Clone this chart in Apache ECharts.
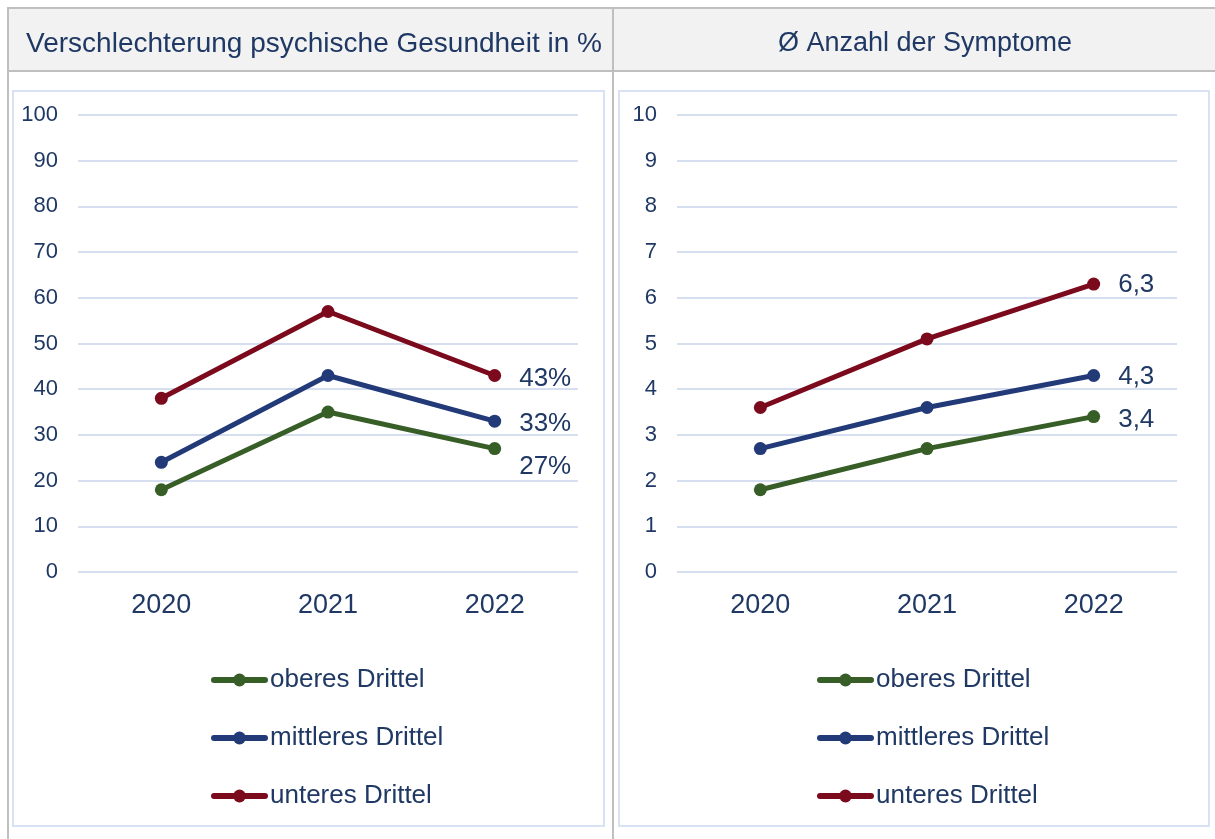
<!DOCTYPE html>
<html>
<head>
<meta charset="utf-8">
<script src="https://cdn.jsdelivr.net/npm/echarts@6/dist/echarts.min.js"></script>
<style>
html,body{margin:0;padding:0;background:#fff;}
#c{width:1215px;height:839px;}
</style>
</head>
<body>
<div id="c"></div>
<script>
const categories = ['2020', '2021', '2022'];
const seriesNames = ['oberes Drittel', 'mittleres Drittel', 'unteres Drittel'];
const leftTitle = 'Verschlechterung psychische Gesundheit in %';
const rightTitle = 'Ø Anzahl der Symptome';

// Verschlechterung psychische Gesundheit in %
const pctOberes = [18, 35, 27];
const pctMittleres = [24, 43, 33];
const pctUnteres = [38, 57, 43];

// Ø Anzahl der Symptome
const symOberes = [1.8, 2.7, 3.4];
const symMittleres = [2.7, 3.6, 4.3];
const symUnteres = [3.6, 5.1, 6.3];

const colors = ['#385e27', '#223a78', '#7b0a1c'];
const textColor = '#1f3864';
const gridColor = '#d6dff0';
const FONT = 'Liberation Sans, Arial, sans-serif';

const chart = echarts.init(document.getElementById('c'));

function makeSeries(name, values, idx, axisIdx, fmt, labelOffsetY) {
  return {
    name: name,
    type: 'line',
    xAxisIndex: axisIdx,
    yAxisIndex: axisIdx,
    symbol: 'circle',
    symbolSize: 13,
    color: colors[idx],
    lineStyle: { width: 5, color: colors[idx] },
    itemStyle: { color: colors[idx] },
    z: 3 + (2 - idx),
    animation: false,
    data: values.map((v, i) => i === values.length - 1 ? {
      value: v,
      label: {
        show: true,
        position: 'right',
        distance: 18,
        offset: [0, labelOffsetY],
        color: textColor,
        fontSize: 26,
        fontFamily: FONT,
        formatter: fmt
      }
    } : v)
  };
}

const xAxisBase = {
  type: 'category',
  data: categories,
  boundaryGap: true,
  axisLine: { show: false },
  axisTick: { show: false },
  axisLabel: { color: textColor, fontSize: 27, fontFamily: FONT, margin: 20 }
};

function yAxisBase(max, interval) {
  return {
    type: 'value',
    min: 0,
    max: max,
    interval: interval,
    axisLine: { show: false },
    axisTick: { show: false },
    axisLabel: { color: textColor, fontSize: 22, fontFamily: FONT, margin: 20 },
    splitLine: { lineStyle: { color: gridColor, width: 2 } }
  };
}

const legendBase = {
  orient: 'vertical',
  top: 667,
  padding: 0,
  itemWidth: 51,
  itemHeight: 16,
  itemGap: 32,
  data: seriesNames,
  selectedMode: false,
  lineStyle: { width: 6, cap: 'round' },
  itemStyle: { borderWidth: 0 },
  textStyle: { color: textColor, fontSize: 26, fontFamily: FONT, padding: [0, 0, 0, 0] }
};

const option = {
  backgroundColor: '#ffffff',
  animation: false,
  textStyle: { fontFamily: FONT },
  graphic: [
    { type: 'rect', shape: { x: 7, y: 7, width: 1215, height: 64 }, style: { fill: '#f2f2f2' }, z: -10 },
    { type: 'line', shape: { x1: 7, y1: 8, x2: 1215, y2: 8 }, style: { stroke: '#bfbfbf', lineWidth: 2 }, z: -5 },
    { type: 'line', shape: { x1: 7, y1: 71, x2: 1215, y2: 71 }, style: { stroke: '#bfbfbf', lineWidth: 2 }, z: -5 },
    { type: 'line', shape: { x1: 8, y1: 7, x2: 8, y2: 839 }, style: { stroke: '#bfbfbf', lineWidth: 2 }, z: -5 },
    { type: 'line', shape: { x1: 613, y1: 7, x2: 613, y2: 839 }, style: { stroke: '#bfbfbf', lineWidth: 2 }, z: -5 },
    { type: 'rect', shape: { x: 13, y: 91, width: 591, height: 735 }, style: { fill: '#ffffff', stroke: '#d9e1f4', lineWidth: 2 }, z: -5 },
    { type: 'rect', shape: { x: 619, y: 91, width: 590, height: 735 }, style: { fill: '#ffffff', stroke: '#d9e1f4', lineWidth: 2 }, z: -5 }
  ],
  title: [
    { text: leftTitle, left: 309, top: 39, textAlign: 'center', textVerticalAlign: 'middle',
      textStyle: { color: textColor, fontSize: 28, fontWeight: 'normal', fontFamily: FONT } },
    { text: rightTitle, left: 920, top: 39, textAlign: 'center', textVerticalAlign: 'middle',
      textStyle: { color: textColor, fontSize: 27, fontWeight: 'normal', fontFamily: FONT } }
  ],
  grid: [
    { left: 78, top: 115, width: 500, height: 457 },
    { left: 677, top: 115, width: 500, height: 457 }
  ],
  xAxis: [
    Object.assign({ gridIndex: 0 }, xAxisBase),
    Object.assign({ gridIndex: 1 }, xAxisBase)
  ],
  yAxis: [
    Object.assign({ gridIndex: 0 }, yAxisBase(100, 10)),
    Object.assign({ gridIndex: 1 }, yAxisBase(10, 1))
  ],
  legend: [
    Object.assign({ left: 211 }, legendBase),
    Object.assign({ left: 817 }, legendBase)
  ],
  series: [
    makeSeries(seriesNames[0], pctOberes, 0, 0, p => p.value + '%', 18),
    makeSeries(seriesNames[1], pctMittleres, 1, 0, p => p.value + '%', 3),
    makeSeries(seriesNames[2], pctUnteres, 2, 0, p => p.value + '%', 3),
    makeSeries(seriesNames[0], symOberes, 0, 1, p => String(p.value).replace('.', ','), 3),
    makeSeries(seriesNames[1], symMittleres, 1, 1, p => String(p.value).replace('.', ','), 1),
    makeSeries(seriesNames[2], symUnteres, 2, 1, p => String(p.value).replace('.', ','), 1)
  ]
};

chart.setOption(option);
</script>
</body>
</html>
